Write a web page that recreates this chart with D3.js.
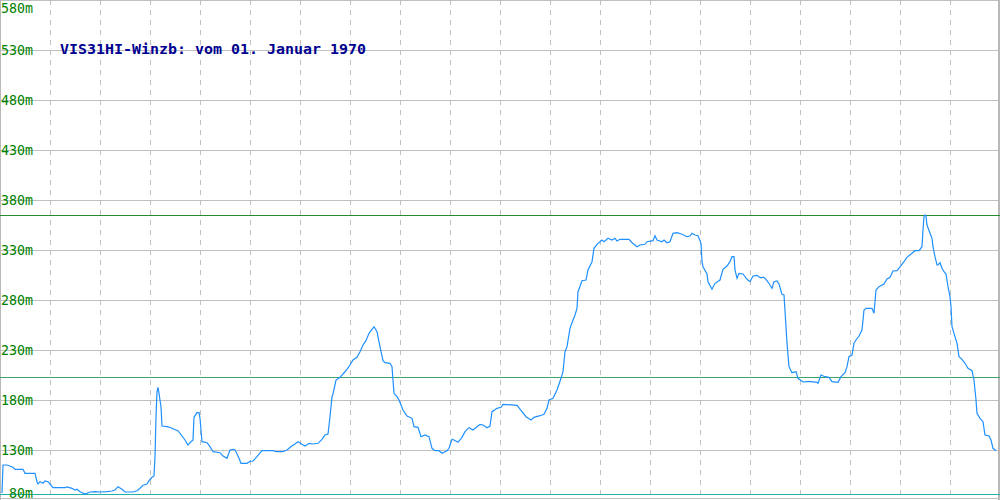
<!DOCTYPE html>
<html>
<head>
<meta charset="utf-8">
<script src="https://cdn.jsdelivr.net/npm/d3@7"></script>
<style>
  html, body { margin: 0; padding: 0; background: #fff; }
  svg { display: block; }
</style>
</head>
<body>
<svg id="chart" width="1000" height="500"></svg>
<script>
// ---- data (sample position, level in metres) ----
const title = "VIS31HI-Winzb: vom 01. Januar 1970";
const yTickValues = [580, 530, 480, 430, 380, 330, 280, 230, 180, 130, 80];
const yTickLabels = ["580m", "530m", "480m", "430m", "380m", "330m", "280m", "230m", "180m", "130m", " 80m"];
const xGridValues = [50, 100, 150, 200, 250, 300, 350, 400, 450, 500, 550, 600, 650, 700, 750, 800, 850, 900, 950];
const maxLevel = 365;
const meanLevel = 203;
const minLevel = 85.7;

const samplePos = [
  2, 3, 7, 13, 15, 23, 25, 35, 37, 38, 40, 43, 45, 48, 50, 53, 65, 67, 72, 75, 77, 80, 85, 90, 95, 100, 107, 112, 115, 118,
  122, 125, 133, 137, 140, 143, 147, 149, 152, 154, 155, 156, 157, 158, 159, 161, 162, 167, 171, 174, 178, 182, 185, 188, 191, 193, 194, 197, 199, 200,
  202, 207, 210, 213, 220, 223, 227, 230, 233, 235, 237, 239, 241, 247, 250,
  253, 257, 262, 273, 276, 283, 287, 292, 295, 298, 302, 305, 309, 313, 318, 322, 325, 328, 330, 332, 333, 336, 340, 343, 347,
  350, 353, 357, 360, 363, 366, 369, 372, 374, 377, 380, 383, 385, 390, 392, 394, 397, 399, 403, 407, 412, 414, 418, 421, 425,
  429, 432, 435, 439, 442, 447, 449, 452, 454, 458, 462, 465, 469, 473, 477, 480, 483, 487, 490, 492, 497, 501, 503, 517, 522,
  526, 531, 534, 540, 544, 547, 549, 553, 557, 561, 563, 565, 567, 570, 572, 575, 577, 578, 582, 586, 588, 592, 594, 597, 602,
  604, 608, 612, 615, 617, 620, 629, 632, 637, 640, 645, 647, 653, 655, 657, 662, 664, 667, 670, 673, 677, 682, 687, 690, 692,
  695, 698, 701, 702, 703, 707, 708, 712, 715, 720, 723, 727, 730, 732, 734, 735, 737, 739, 743, 747, 750, 753, 757, 760, 764,
  767, 770, 772, 774, 777, 779, 782, 784, 786, 787, 789, 792, 796, 798, 803, 807, 811, 817, 818, 821, 825, 829, 832, 838, 841,
  845, 847, 849, 852, 854, 856, 859, 862, 864, 866, 872, 874, 876, 879, 884, 887, 890, 893, 897, 901, 904, 907, 912, 915, 919,
  922, 923, 924, 925, 926, 927, 930, 932, 933, 935, 937, 938, 940, 942, 944, 946, 948, 950, 951, 952, 954, 957, 959, 962, 965,
  968, 972, 974, 976, 977, 980, 983, 985, 989, 991, 993, 996
];
const levels = [
  87, 115, 115, 112.7, 110.7, 110.7, 106.7, 106.7, 98.3, 96, 98.3, 96.7, 99, 98.3, 96, 92.3, 92.3, 93, 91.7, 90, 90.7, 88.3, 86, 88, 88.3, 88, 88.3, 89, 90, 93.3,
  90.7, 88, 88, 89.3, 91.7, 94.7, 96, 99.3, 102.7, 104, 123.3, 163.3, 188.3, 192.7, 186.7, 173.3, 154, 153.3, 152.3, 150.7, 149.3, 144, 140, 135, 138.3, 140, 162.7, 167.3, 167.3, 161.7,
  138.3, 137.3, 133.3, 128.3, 127.3, 124, 121.7, 130, 130.7, 130, 126, 121.7, 116.7, 116.7, 118.7,
  119, 123.3, 129.3, 129.3, 128.3, 128.3, 130, 134.3, 136, 138.3, 135.7, 134, 136.7, 136, 136.7, 140.7, 145, 146, 163.3, 183.3, 186, 200, 202.7, 206, 210.7,
  215, 220, 222.7, 228.3, 235, 239.3, 246.7, 250.7, 253.3, 248.3, 233.3, 219.3, 217.3, 216.7, 213.3, 186.7, 183.3, 180, 170, 164, 161.7, 153.3, 152.7, 143.3, 145,
  143.3, 131.7, 129.3, 129.3, 126.7, 129.3, 131.7, 140.7, 140, 137.7, 142.7, 148.3, 152.3, 150, 153.3, 155.7, 155, 152.3, 154, 168.3, 171.7, 172.7, 175.7, 174.7, 168.3,
  163.3, 160, 162.7, 164.3, 165.7, 171.7, 180, 181.7, 190, 201.7, 208.3, 228.3, 233.3, 251.7, 257.3, 265, 271.7, 288.3, 299.3, 300, 310, 318.3, 331.7, 335.7, 340,
  338.3, 341.7, 340, 341.7, 339, 340.7, 340.7, 337.3, 333.3, 335, 335.7, 338.3, 339.3, 344.3, 340, 338.3, 340, 337.3, 338.3, 346.7, 347.3, 345.7, 343.3, 344, 346.7,
  345, 344.3, 336.7, 318.3, 313.3, 306, 298.3, 290.7, 296.7, 300, 310.7, 314, 318.3, 323.3, 323.3, 310, 301.7, 306.7, 306, 300.7, 298.3, 304, 304.7, 302.3, 302.7,
  299.3, 295, 291.7, 298.3, 299, 296, 285.7, 285, 253.3, 236.7, 213.3, 207.3, 208.3, 201.7, 198, 198.3, 198.3, 197.7, 196.7, 205, 203.3, 202.7, 198.3, 197.7, 203.3,
  207.3, 213.3, 223.3, 225, 236.7, 240, 244, 250, 270, 271.7, 271.7, 266.7, 290, 293.3, 296, 301, 302.7, 309, 309.3, 314.3, 318.3, 322.7, 326.7, 329.3, 329.3,
  333.3, 350, 363.3, 365, 364, 355, 346.7, 341.7, 333.3, 323.3, 315, 315, 317.3, 311.7, 308.3, 306, 293.3, 283.3, 273.3, 253.3, 246.7, 236.7, 223.3, 220.7, 216.7,
  211.7, 209.3, 200, 180, 166.7, 161.7, 158.3, 145, 144, 140, 131.7, 129.3
];

// ---- drawing ----
const W = 1000, H = 500;
const svg = d3.select("#chart");

const x = d3.scaleLinear().domain([0, 1000]).range([0, 1000]);
const y = d3.scaleLinear().domain([80, 580]).range([500, 0]);

// horizontal grid (solid)
svg.append("g").selectAll("line")
  .data(yTickValues.filter(v => v > 80))
  .join("line")
  .attr("x1", 0).attr("x2", W)
  .attr("y1", d => Math.round(y(d)) + 0.5).attr("y2", d => Math.round(y(d)) + 0.5)
  .attr("stroke", "#c0c0c0").attr("stroke-width", 1)
  .attr("shape-rendering", "crispEdges");

// vertical grid (dashed)
svg.append("g").selectAll("line")
  .data(xGridValues)
  .join("line")
  .attr("x1", d => Math.round(x(d)) + 0.5).attr("x2", d => Math.round(x(d)) + 0.5)
  .attr("y1", 0).attr("y2", H)
  .attr("stroke", "#c0c0c0").attr("stroke-width", 1)
  .attr("stroke-dasharray", "5,5")
  .attr("shape-rendering", "crispEdges");

// frame
svg.append("line").attr("x1", 0.5).attr("x2", 0.5).attr("y1", 0).attr("y2", H)
  .attr("stroke", "#b8b8b8").attr("shape-rendering", "crispEdges");
svg.append("line").attr("x1", W - 1.5).attr("x2", W - 1.5).attr("y1", 0).attr("y2", H)
  .attr("stroke", "#b8b8b8").attr("stroke-width", 2).attr("shape-rendering", "crispEdges");
svg.append("line").attr("x1", 0).attr("x2", W).attr("y1", H - 1.5).attr("y2", H - 1.5)
  .attr("stroke", "#c0c0c0").attr("shape-rendering", "crispEdges");

// reference lines (max, mean, min)
const refs = [
  { v: maxLevel, c: "#2a8a2a" },
  { v: meanLevel, c: "#3fa46a" },
  { v: minLevel, c: "#20b2aa" }
];
svg.append("g").selectAll("line")
  .data(refs)
  .join("line")
  .attr("x1", 0).attr("x2", W)
  .attr("y1", d => Math.round(y(d.v)) + 0.5).attr("y2", d => Math.round(y(d.v)) + 0.5)
  .attr("stroke", d => d.c).attr("stroke-width", 1)
  .attr("shape-rendering", "crispEdges");

// series line
const pts = samplePos.map((p, i) => [p, levels[i]]);
svg.append("path")
  .datum(pts)
  .attr("fill", "none")
  .attr("stroke", "#1e90ff")
  .attr("stroke-width", 1.2)
  .attr("d", d3.line().x(d => x(d[0])).y(d => y(d[1])));

// y labels
svg.append("g").selectAll("text")
  .data(yTickValues)
  .join("text")
  .attr("x", 1)
  .attr("y", (d, i) => {
    if (d === 580) return 13;
    if (d === 80) return 497.5;
    return y(d) + 4.5;
  })
  .attr("font-family", "'DejaVu Sans Mono', monospace")
  .attr("font-size", 14)
  .attr("fill", "#008000")
  .attr("textLength", (d, i) => yTickLabels[i].length * 8)
  .attr("lengthAdjust", "spacingAndGlyphs")
  .attr("xml:space", "preserve")
  .style("white-space", "pre")
  .text((d, i) => yTickLabels[i]);

// title
svg.append("text")
  .attr("x", 60)
  .attr("y", 54)
  .attr("font-family", "'DejaVu Sans Mono', monospace")
  .attr("font-size", 14.5)
  .attr("font-weight", "bold")
  .attr("fill", "#000090")
  .attr("textLength", 306)
  .attr("lengthAdjust", "spacingAndGlyphs")
  .text(title);
</script>
</body>
</html>
